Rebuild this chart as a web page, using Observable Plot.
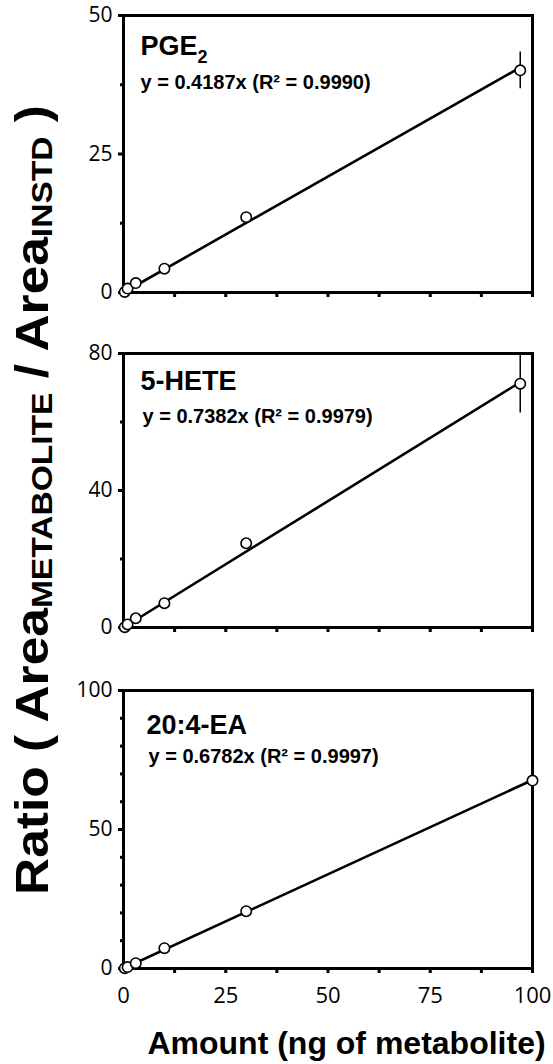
<!DOCTYPE html>
<html>
<head>
<meta charset="utf-8">
<script src="https://cdn.jsdelivr.net/npm/d3@7"></script>
<script src="https://cdn.jsdelivr.net/npm/@observablehq/plot@0.6"></script>
<style>
  body { margin: 0; background: white; }
  #chart { position: relative; width: 553px; height: 1064px; background: white; overflow: hidden; }
  #chart > svg, #chart > figure { position: absolute; left: 0; margin: 0; }
</style>
</head>
<body>
<div id="chart"></div>
<script>
// ---- data ----
const amounts = [0.3, 1, 3, 10, 30, 97];          // ng, panels PGE2 and 5-HETE
const amountsEA = [0.3, 1, 3, 10, 30, 100];       // ng, panel 20:4-EA

const pge2Ratio = [0.1, 0.7, 1.7, 4.3, 13.6, 40.1];
const pge2Err   = [0, 0, 0, 0, 0, 3.3];
const heteRatio = [0.1, 0.9, 2.7, 7.1, 24.6, 71.2];
const heteErr   = [0, 0, 0, 0, 0, 8.6];
const eaRatio   = [0.1, 0.5, 1.9, 7.3, 20.6, 67.6];
const eaErr     = [0, 0, 0, 0, 0, 0];

const slopes = [0.4187, 0.7382, 0.6782];
const titles = ["PGE", "5-HETE", "20:4-EA"];
const equations = [
  "y = 0.4187x (R\u00B2 = 0.9990)",
  "y = 0.7382x (R\u00B2 = 0.9979)",
  "y = 0.6782x (R\u00B2 = 0.9997)"
];

const xTicks = [0, 25, 50, 75, 100];
const xMinorTicks = [12.5, 37.5, 62.5, 87.5];
const yTicks1 = [0, 25, 50], yMinor1 = [12.5, 37.5];
const yTicks2 = [0, 40, 80], yMinor2 = [20, 60];
const yTicks3 = [0, 50, 100], yMinor3 = [10, 20, 30, 40, 60, 70, 80, 90];

// ---- layout ----
const boldFont = "'Liberation Sans', Arial, Helvetica, sans-serif";
const tickFont = "'Open Sans', 'Noto Sans', sans-serif";

function panel(cfg) {
  const pts = cfg.xs.map((x, i) => ({x, y: cfg.ys[i], e: cfg.err[i]}));
  const xMax = d3.max(cfg.xs);
  const fit = [{x: 0, y: 0}, {x: xMax, y: cfg.slope * xMax}];
  const marks = [
    Plot.axisY(cfg.yTicks, {tickSize: 5, tickPadding: 6, strokeWidth: 3, fontSize: 21, label: null}),
    Plot.axisY(cfg.yMinor, {tickSize: 3, strokeWidth: 3, text: null, label: null}),
  ];
  if (cfg.showX) {
    marks.push(Plot.axisX(xTicks, {tickSize: 5, tickPadding: 14, strokeWidth: 3, fontSize: 22, label: null}));
    marks.push(Plot.axisX(xMinorTicks, {tickSize: 5, strokeWidth: 3, text: null, label: null}));
    marks.push(Plot.text(["Amount (ng of metabolite)"], {
      frameAnchor: "bottom", dx: 18.5, dy: 85, lineAnchor: "bottom",
      fontSize: 32, fontWeight: "bold", fontFamily: boldFont
    }));
  } else {
    marks.push(Plot.axisX(xTicks.concat(xMinorTicks), {tickSize: 5, strokeWidth: 3, text: null, label: null}));
  }
  marks.push(
    Plot.frame({strokeWidth: 3}),
    Plot.line(fit, {x: "x", y: "y", strokeWidth: 2.6}),
    Plot.ruleX(pts.filter(d => d.e > 0), {x: "x", y1: d => d.y - d.e, y2: d => d.y + d.e, strokeWidth: 1.5}),
    Plot.dot(pts, {x: "x", y: "y", r: 5.2, fill: "white", stroke: "black", strokeWidth: 1.6}),
    Plot.text([cfg.title], {frameAnchor: "top-left", dx: cfg.tdx, dy: cfg.tdy, textAnchor: "start",
      lineAnchor: "bottom", fontSize: 27, fontWeight: "bold", fontFamily: boldFont}),
    Plot.text([cfg.eq], {frameAnchor: "top-left", dx: cfg.edx, dy: cfg.edy, textAnchor: "start",
      lineAnchor: "bottom", fontSize: 20, fontWeight: "bold", fontFamily: boldFont})
  );
  const svg = Plot.plot({
    width: 553, height: cfg.height,
    marginLeft: 123, marginRight: 21, marginTop: 15, marginBottom: cfg.mb,
    x: {domain: [0, 100]},
    y: {domain: [0, d3.max(cfg.yTicks)]},
    style: {fontFamily: tickFont, fontSize: "21px", color: "black", background: "transparent", overflow: "visible"},
    marks
  });
  svg.style.top = cfg.top + "px";
  // subscript for PGE2
  svg.querySelectorAll("text").forEach(t => {
    if (t.textContent === "PGE") {
      const ts = document.createElementNS("http://www.w3.org/2000/svg", "tspan");
      ts.setAttribute("font-size", "18");
      ts.setAttribute("dy", "8");
      ts.textContent = "2";
      t.appendChild(ts);
    }
  });
  return svg;
}

const chart = document.getElementById("chart");
chart.appendChild(panel({xs: amounts, ys: pge2Ratio, err: pge2Err, slope: slopes[0], title: titles[0], eq: equations[0],
  yTicks: yTicks1, yMinor: yMinor1, top: 0, height: 304, mb: 12, showX: false, tdx: 17, tdy: 39, edx: 17, edy: 73}));
chart.appendChild(panel({xs: amounts, ys: heteRatio, err: heteErr, slope: slopes[1], title: titles[1], eq: equations[1],
  yTicks: yTicks2, yMinor: yMinor2, top: 338, height: 302, mb: 13, showX: false, tdx: 17, tdy: 36, edx: 19, edy: 69}));
chart.appendChild(panel({xs: amountsEA, ys: eaRatio, err: eaErr, slope: slopes[2], title: titles[2], eq: equations[2],
  yTicks: yTicks3, yMinor: yMinor3, top: 675, height: 389, mb: 96, showX: true, tdx: 23, tdy: 43, edx: 25, edy: 72}));

// y-axis label (rotated, with subscripts)
const NS = "http://www.w3.org/2000/svg";
const ysvg = document.createElementNS(NS, "svg");
ysvg.setAttribute("width", "70");
ysvg.setAttribute("height", "1064");
ysvg.style.top = "0px";
const yt = document.createElementNS(NS, "text");
yt.setAttribute("transform", "translate(48,500) rotate(-90)");
yt.setAttribute("text-anchor", "middle");
yt.setAttribute("font-family", boldFont);
yt.setAttribute("font-weight", "bold");
yt.setAttribute("font-size", "46");
yt.setAttribute("fill", "black");
yt.setAttribute("textLength", "790");
yt.setAttribute("lengthAdjust", "spacingAndGlyphs");
yt.setAttribute("style", "white-space: pre");
const parts = [
  ["Ratio ( Area", null, 0],
  ["METABOLITE", 30, 4],
  [" / Area", null, -4],
  ["INSTD", 30, 4],
  [" )", null, -4]
];
parts.forEach(([s, fs, dy]) => {
  const ts = document.createElementNS(NS, "tspan");
  if (fs) ts.setAttribute("font-size", fs);
  if (dy) ts.setAttribute("dy", dy);
  ts.textContent = s;
  yt.appendChild(ts);
});
ysvg.appendChild(yt);
chart.appendChild(ysvg);
</script>
</body>
</html>
